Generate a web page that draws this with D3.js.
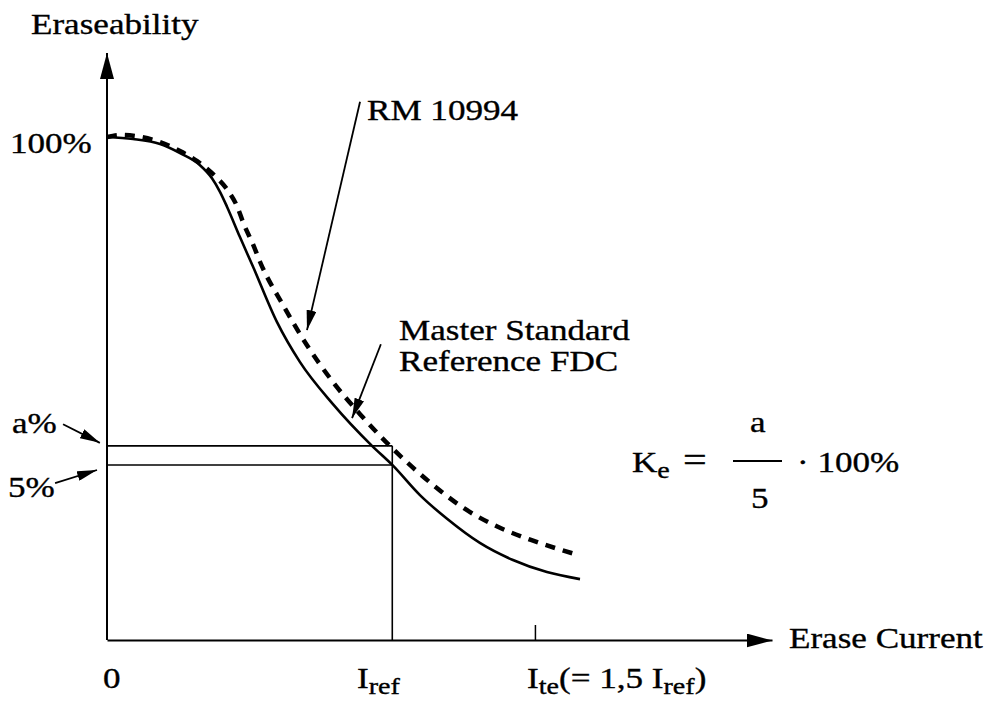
<!DOCTYPE html>
<html>
<head>
<meta charset="utf-8">
<script src="https://cdn.jsdelivr.net/npm/d3@7"></script>
<style>
  body { margin: 0; background: #fff; }
  text { font-family: "Liberation Serif", "Times New Roman", serif; fill: #000; stroke: #000; stroke-width: 0.35; }
</style>
</head>
<body>
<svg id="chart" width="997" height="702"></svg>
<script>
// erase current in units of I_ref, eraseability in drawing units (100% = 1)
var masterX = [0, 0.091, 0.186, 0.256, 0.326, 0.368, 0.396, 0.421, 0.466, 0.512, 0.596, 0.676, 0.792, 0.929, 1.0, 1.097, 1.192, 1.307, 1.423, 1.542, 1.658];
var masterY = [1.000, 0.996, 0.986, 0.968, 0.944, 0.918, 0.891, 0.861, 0.801, 0.742, 0.632, 0.553, 0.469, 0.386, 0.348, 0.288, 0.241, 0.193, 0.159, 0.135, 0.121];

var rmX = [0, 0.046, 0.186, 0.256, 0.316, 0.372, 0.422, 0.457, 0.478, 0.513, 0.537, 0.617, 0.701, 0.792, 0.887, 0.981, 1.135, 1.251, 1.370, 1.486, 1.651];
var rmY = [1.0, 1.004, 0.990, 0.972, 0.952, 0.926, 0.895, 0.861, 0.829, 0.785, 0.751, 0.666, 0.586, 0.513, 0.449, 0.392, 0.312, 0.262, 0.225, 0.199, 0.169];

var iRef = 1, iTe = 1.5;
var levelFull = 1, levelA = 0.386, levelFive = 0.348;

var svg = d3.select("#chart");

var x = d3.scaleLinear().domain([0, 2.331]).range([107, 772]);
var y = d3.scaleLinear().domain([0, 1]).range([640, 137]);

var defs = svg.append("defs");
defs.append("marker").attr("id", "head").attr("viewBox", "0 0 20 10")
    .attr("refX", 20).attr("refY", 5).attr("markerWidth", 20).attr("markerHeight", 10)
    .attr("markerUnits", "userSpaceOnUse").attr("orient", "auto")
  .append("path").attr("d", "M0,0L20,5L0,10Z").attr("fill", "#000");
defs.append("marker").attr("id", "bighead").attr("viewBox", "0 0 26 14")
    .attr("refX", 26).attr("refY", 7).attr("markerWidth", 26).attr("markerHeight", 14)
    .attr("markerUnits", "userSpaceOnUse").attr("orient", "auto")
  .append("path").attr("d", "M0,0L26,7L0,14Z").attr("fill", "#000");

// axes
var xAxis = d3.axisBottom(x).tickValues([iTe]).tickSize(-15).tickSizeOuter(0).tickFormat("");
svg.append("g").attr("transform", "translate(0," + y(0) + ")").call(xAxis)
  .call(g => g.select(".domain").attr("stroke-width", 2).attr("marker-end", "url(#bighead)"))
  .call(g => g.selectAll(".tick line").attr("stroke-width", 1.5));

svg.append("line")
    .attr("x1", x(0)).attr("y1", y(0))
    .attr("x2", x(0)).attr("y2", y(1.167))
    .attr("stroke", "#000").attr("stroke-width", 2)
    .attr("marker-end", "url(#bighead)");

// reference construction lines
svg.append("line").attr("x1", x(iRef)).attr("x2", x(iRef)).attr("y1", y(levelA)).attr("y2", y(0))
    .attr("stroke", "#000").attr("stroke-width", 1.6);
[levelA, levelFive].forEach(function(v) {
  svg.append("line").attr("x1", x(0)).attr("x2", x(iRef)).attr("y1", y(v)).attr("y2", y(v))
      .attr("stroke", "#000").attr("stroke-width", 1.6);
});

var line = d3.line()
  .x(d => x(d[0]))
  .y(d => y(d[1]))
  .curve(d3.curveMonotoneX);

svg.append("path")
    .datum(d3.zip(masterX, masterY))
    .attr("fill", "none")
    .attr("stroke", "#000")
    .attr("stroke-width", 2.6)
    .attr("d", line);

svg.append("path")
    .datum(d3.zip(rmX, rmY))
    .attr("fill", "none")
    .attr("stroke", "#000")
    .attr("stroke-width", 4.5)
    .attr("stroke-dasharray", "10,8")
    .attr("d", line);

// leader arrows [x1, y1, x2, y2] in data units
var leaders = [
  [0.887, 1.070, 0.701, 0.616],
  [0.960, 0.588, 0.859, 0.441],
  [-0.154, 0.429, -0.025, 0.392],
  [-0.182, 0.312, -0.035, 0.338]
];
leaders.forEach(function(l) {
  svg.append("line")
      .attr("x1", x(l[0])).attr("y1", y(l[1]))
      .attr("x2", x(l[2])).attr("y2", y(l[3]))
      .attr("stroke", "#000").attr("stroke-width", 1.8)
      .attr("marker-end", "url(#head)");
});

// text, slightly stretched like the printed original
function label(px, py, parts, size) {
  var t = svg.append("g")
      .attr("transform", "translate(" + px + "," + py + ") scale(1.17,1)")
    .append("text").attr("font-size", size || 30);
  var low = false;
  parts.forEach(function(p) {
    if (typeof p === "string") {
      t.append("tspan").attr("font-size", size || 30).attr("dy", low ? -6 : 0).text(p);
      low = false;
    } else {
      t.append("tspan").attr("font-size", 24).attr("dy", 6).text(p.sub);
      low = true;
    }
  });
  return t;
}

label(31, 34, ["Eraseability"]);
label(10, 153, ["100%"]);
label(12, 433, ["a%"]);
label(8, 497, ["5%"]);
label(367, 120, ["RM 10994"]);
label(399, 340, ["Master Standard"]);
label(399, 371, ["Reference FDC"]);
label(789, 648, ["Erase Current"]);

label(103, 688, ["0"]);
label(357, 688, ["I", {sub: "ref"}]);
label(527, 688, ["I", {sub: "te"}, "(= 1,5 I", {sub: "ref"}, ")"]);

// K_e = a / 5 * 100%
label(632, 472, ["K", {sub: "e"}]);
label(683, 472, ["="], 36);
label(750, 432, ["a"]);
label(751, 508, ["5"]);
svg.append("line").attr("x1", 733).attr("x2", 782).attr("y1", 461).attr("y2", 461)
    .attr("stroke", "#000").attr("stroke-width", 2);
label(797, 472, ["\u00B7 100%"]);
</script>
</body>
</html>
